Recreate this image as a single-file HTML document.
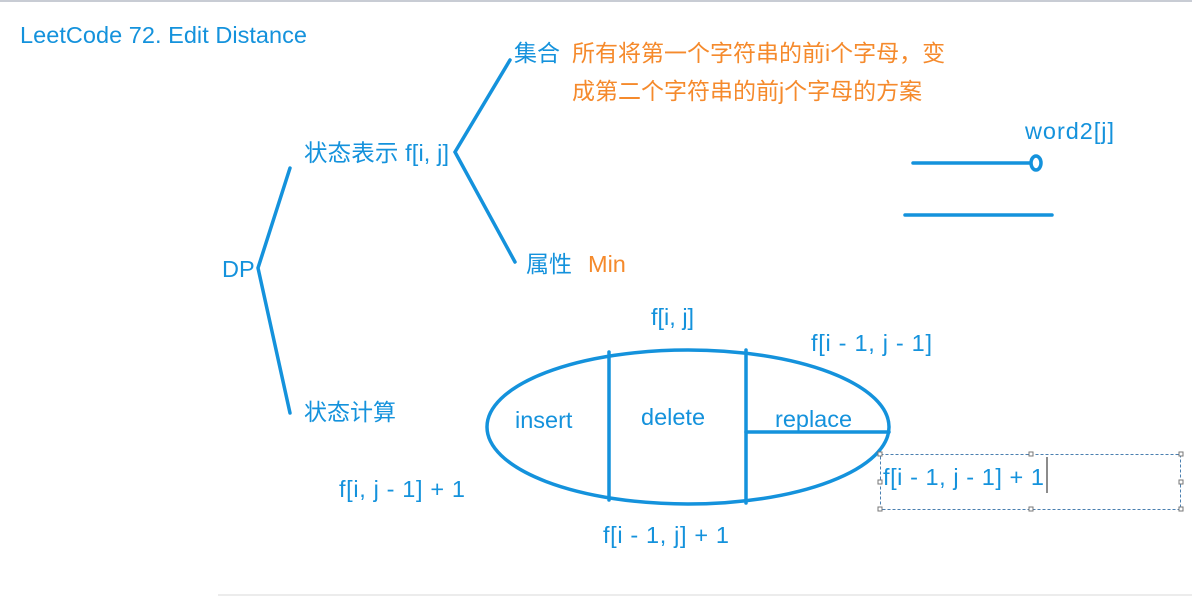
<!DOCTYPE html>
<html><head><meta charset="utf-8"><style>
body{margin:0;width:1192px;height:597px;overflow:hidden;background:#fff;font-family:"Liberation Sans","Noto Sans CJK SC",sans-serif}
svg{position:absolute;left:0;top:0}
text{font-family:"Liberation Sans","Noto Sans CJK SC",sans-serif;font-size:23.5px;fill:#1492dc}
.o{fill:#f58a2c;font-size:23px}
.c{font-size:23px}
</style></head><body>
<svg width="1192" height="597" viewBox="0 0 1192 597">
<rect x="0" y="0" width="1192" height="2" fill="#c8ccd4"/>
<line x1="218" y1="595" x2="1192" y2="595" stroke="#e6e6e6" stroke-width="1.5"/>
<g stroke="#1492dc" stroke-width="3.5" fill="none" stroke-linecap="round">
<polyline points="290,168 258,268 290,413"/>
<polyline points="510,60 455,152 515,262"/>
<ellipse cx="688" cy="427" rx="201" ry="77"/>
<line x1="609" y1="352" x2="609" y2="500"/>
<line x1="746" y1="350" x2="746" y2="503"/>
<line x1="746" y1="432" x2="889" y2="432"/>
<line x1="913" y1="163" x2="1030" y2="163"/>
<ellipse cx="1036" cy="163" rx="5" ry="7"/>
<line x1="905" y1="215" x2="1052" y2="215"/>
</g>
<text x="20" y="43" textLength="287">LeetCode 72. Edit Distance</text>
<text class="c" x="514" y="61">集合</text>
<text class="o" x="572" y="61">所有将第一个字符串的前i个字母，变</text>
<text class="o" x="572" y="99">成第二个字符串的前j个字母的方案</text>
<text x="304" y="161" textLength="145">状态表示 f[i, j]</text>
<text x="1025" y="139" textLength="89">word2[j]</text>
<text x="222" y="277">DP</text>
<text class="c" x="526" y="272">属性</text>
<text class="o" x="588" y="272" style="font-size:23.5px">Min</text>
<text x="651" y="325">f[i, j]</text>
<text x="811" y="351" textLength="121">f[i - 1, j - 1]</text>
<text class="c" x="304" y="420">状态计算</text>
<text x="515" y="428">insert</text>
<text x="641" y="425">delete</text>
<text x="775" y="427">replace</text>
<text x="339" y="497" textLength="126">f[i, j - 1] + 1</text>
<text x="603" y="543" textLength="126">f[i - 1, j] + 1</text>
<rect x="880.5" y="454.5" width="300" height="55" fill="none" stroke="#4a7fb0" stroke-dasharray="3,2"/>
<g fill="#fff" stroke="#777" stroke-width="1">
<rect x="878" y="452" width="4" height="4"/><rect x="1029" y="452" width="4" height="4"/><rect x="1179" y="452" width="4" height="4"/>
<rect x="878" y="480" width="4" height="4"/><rect x="1179" y="480" width="4" height="4"/>
<rect x="878" y="507" width="4" height="4"/><rect x="1029" y="507" width="4" height="4"/><rect x="1179" y="507" width="4" height="4"/>
</g>
<text x="883" y="485" textLength="161">f[i - 1, j - 1] + 1</text>
<line x1="1047" y1="457" x2="1047" y2="493" stroke="#666" stroke-width="1.5"/>
</svg>
</body></html>
